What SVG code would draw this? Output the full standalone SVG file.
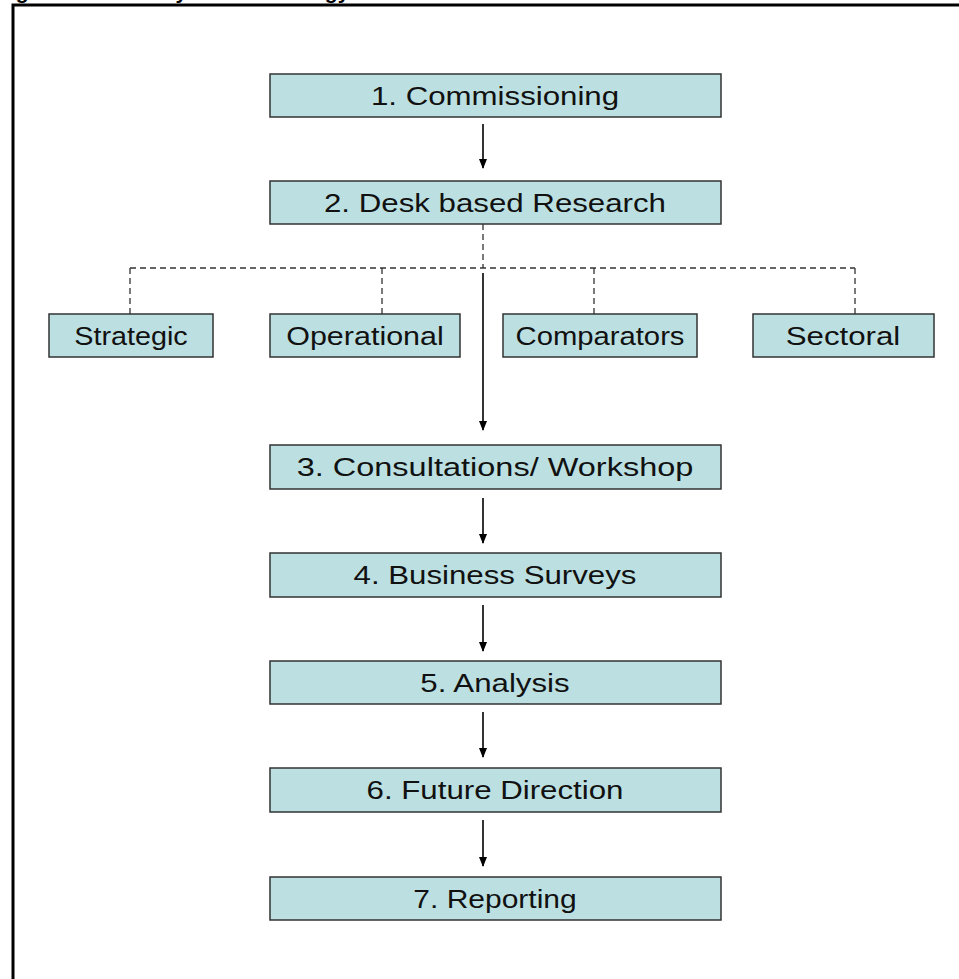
<svg xmlns="http://www.w3.org/2000/svg" width="959" height="979" viewBox="0 0 959 979">
  <style>
    .box { fill: #bce0e1; stroke: #333; stroke-width: 1.5; }
    .lbl { font-family: "Liberation Sans", Arial, sans-serif; font-size: 25px; fill: #111; text-anchor: middle; }
    .title { font-family: "Liberation Sans", Arial, sans-serif; font-size: 21px; font-weight: bold; fill: #000; }
    .flow { stroke: #000; stroke-width: 1.6; fill: none; marker-end: url(#head); }
    .dash { stroke: #333; stroke-width: 1.3; fill: none; stroke-dasharray: 6 4; }
  </style>
  <defs>
    <marker id="head" markerWidth="10" markerHeight="8" refX="9" refY="4" orient="auto" markerUnits="userSpaceOnUse">
      <path d="M0,0 L10,4 L0,8 Z" fill="#000"/>
    </marker>
  </defs>

  <!-- caption, mostly above the page edge -->
  <text class="title" x="-3" y="-1">Figure 1: Summary of Methodology</text>

  <!-- frame -->
  <path d="M13,979 V5 H959" fill="none" stroke="#000" stroke-width="3"/>

  <g id="connectors">
    <path class="flow" d="M483,124 V168"/>
    <path class="dash" d="M483,224 V268 M130,268 H855 M130,268 V314 M382,268 V314 M594,268 V314 M855,268 V314"/>
    <path class="flow" d="M483,273 V430"/>
    <path class="flow" d="M483,498 V543"/>
    <path class="flow" d="M483,605 V651"/>
    <path class="flow" d="M483,712 V757"/>
    <path class="flow" d="M483,820 V866"/>
  </g>

  <g id="n1"><rect class="box" x="270" y="74" width="451" height="43"/>
    <text class="lbl" transform="translate(495,105) scale(1.25,1)">1. Commissioning</text></g>
  <g id="n2"><rect class="box" x="270" y="181" width="451" height="43"/>
    <text class="lbl" transform="translate(495,212) scale(1.25,1)">2. Desk based Research</text></g>

  <g id="strategic"><rect class="box" x="49" y="314" width="164" height="43"/>
    <text class="lbl" transform="translate(131,345) scale(1.15,1)">Strategic</text></g>
  <g id="operational"><rect class="box" x="270" y="314" width="190" height="43"/>
    <text class="lbl" transform="translate(365,345) scale(1.22,1)">Operational</text></g>
  <g id="comparators"><rect class="box" x="503" y="314" width="194" height="43"/>
    <text class="lbl" transform="translate(600,345) scale(1.17,1)">Comparators</text></g>
  <g id="sectoral"><rect class="box" x="753" y="314" width="181" height="43"/>
    <text class="lbl" transform="translate(843,345) scale(1.25,1)">Sectoral</text></g>

  <g id="n3"><rect class="box" x="270" y="445" width="451" height="44"/>
    <text class="lbl" transform="translate(495,476) scale(1.3,1)">3. Consultations/ Workshop</text></g>
  <g id="n4"><rect class="box" x="270" y="553" width="451" height="44"/>
    <text class="lbl" transform="translate(495,584) scale(1.25,1)">4. Business Surveys</text></g>
  <g id="n5"><rect class="box" x="270" y="661" width="451" height="43"/>
    <text class="lbl" transform="translate(495,692) scale(1.25,1)">5. Analysis</text></g>
  <g id="n6"><rect class="box" x="270" y="768" width="451" height="44"/>
    <text class="lbl" transform="translate(495,799) scale(1.25,1)">6. Future Direction</text></g>
  <g id="n7"><rect class="box" x="270" y="877" width="451" height="43"/>
    <text class="lbl" transform="translate(495,908) scale(1.2,1)">7. Reporting</text></g>
</svg>
